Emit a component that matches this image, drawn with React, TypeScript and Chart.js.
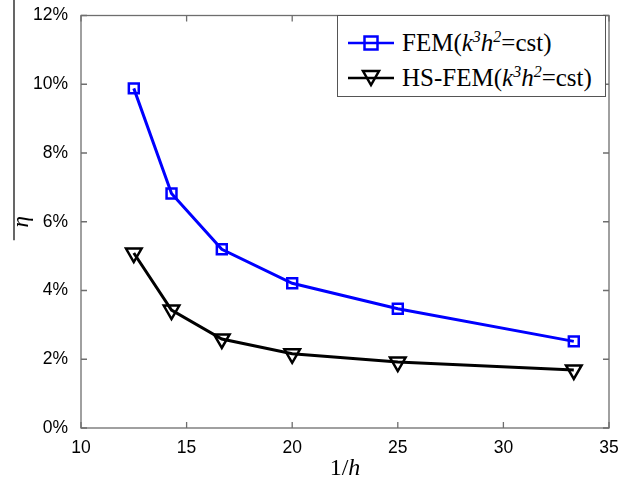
import React, { useEffect, useRef } from "react";
import { Chart, registerables } from "chart.js";

Chart.register(...registerables);

const invH = [12.5, 14.2857, 16.6667, 20, 25, 33.3333];
const femValues = [0.0988, 0.0682, 0.052, 0.0421, 0.0347, 0.0252];
const hsFemValues = [0.0509, 0.0343, 0.0259, 0.0216, 0.0192, 0.0169];
const xTicks = [10, 15, 20, 25, 30, 35];
const yTicks = [0, 0.02, 0.04, 0.06, 0.08, 0.1, 0.12];
const xTitleParts = ["1/", "h"];

const frameColor = "#6e6e6e";

const framePlugin = {
  id: "frame",
  afterDraw(chart: any) {
    const { ctx, chartArea: a, scales } = chart;
    ctx.save();
    ctx.strokeStyle = frameColor;
    ctx.lineWidth = 1.3;
    ctx.strokeRect(a.left, a.top, a.right - a.left, a.bottom - a.top);
    const tl = 6;
    ctx.beginPath();
    xTicks.forEach((v) => {
      const x = scales.x.getPixelForValue(v);
      ctx.moveTo(x, a.bottom);
      ctx.lineTo(x, a.bottom - tl);
      ctx.moveTo(x, a.top);
      ctx.lineTo(x, a.top + tl);
    });
    yTicks.forEach((v) => {
      const y = scales.y.getPixelForValue(v);
      ctx.moveTo(a.left, y);
      ctx.lineTo(a.left + tl, y);
      ctx.moveTo(a.right, y);
      ctx.lineTo(a.right - tl, y);
    });
    ctx.stroke();

    // x-axis title "1/h" with italic h
    const fontN = "24px 'Liberation Serif', 'Times New Roman', serif";
    const fontI = "italic 24px 'Liberation Serif', 'Times New Roman', serif";
    ctx.fillStyle = "#000";
    ctx.textBaseline = "alphabetic";
    ctx.font = fontN;
    const w1 = ctx.measureText(xTitleParts[0]).width;
    ctx.font = fontI;
    const w2 = ctx.measureText(xTitleParts[1]).width;
    const cx = (a.left + a.right) / 2;
    const baseY = a.bottom + 47;
    const x0 = cx - (w1 + w2) / 2;
    ctx.font = fontN;
    ctx.textAlign = "left";
    ctx.fillText(xTitleParts[0], x0, baseY);
    ctx.font = fontI;
    ctx.fillText(xTitleParts[1], x0 + w1, baseY);

    // overline of the y-axis title
    ctx.strokeStyle = "#000";
    ctx.lineWidth = 1.2;
    ctx.beginPath();
    ctx.moveTo(14, 0);
    ctx.lineTo(14, a.top + (a.bottom - a.top) * 0.545);
    ctx.stroke();
    ctx.restore();
  },
};

function Marker({ kind, color }: { kind: string; color: string }) {
  return (
    <svg width="50" height="20" style={{ display: "inline-block", verticalAlign: "middle" }}>
      <line x1="2" y1="10" x2="48" y2="10" stroke={color} strokeWidth="2.5" />
      {kind === "square" ? (
        <rect x="18.5" y="3.5" width="13" height="13" fill="none" stroke={color} strokeWidth="2.5" />
      ) : (
        <polygon points="17,3 33,3 25,17" fill="none" stroke={color} strokeWidth="2.5" />
      )}
    </svg>
  );
}

export default function App() {
  const ref = useRef<HTMLCanvasElement>(null);
  useEffect(() => {
    document.body.style.margin = "0";
    const chart = new Chart(ref.current!, {
      type: "line",
      data: {
        datasets: [
          {
            label: "FEM",
            data: invH.map((x, i) => ({ x, y: femValues[i] })),
            borderColor: "#0000ff",
            borderWidth: 3,
            pointStyle: "rect",
            pointRadius: 7,
            pointBorderWidth: 2.5,
            pointBorderColor: "#0000ff",
            pointBackgroundColor: "rgba(0,0,0,0)",
          },
          {
            label: "HS-FEM",
            data: invH.map((x, i) => ({ x, y: hsFemValues[i] })),
            borderColor: "#000000",
            borderWidth: 3,
            pointStyle: "triangle",
            pointRotation: 180,
            pointRadius: 9,
            pointBorderWidth: 2.5,
            pointBorderColor: "#000000",
            pointBackgroundColor: "rgba(0,0,0,0)",
          },
        ],
      },
      options: {
        animation: false,
        responsive: false,
        layout: { padding: { top: 13, right: 23, left: 0, bottom: 0 } },
        plugins: { legend: { display: false }, tooltip: { enabled: false } },
        scales: {
          x: {
            type: "linear",
            min: 10,
            max: 35,
            afterBuildTicks: (s: any) => {
              s.ticks = xTicks.map((v) => ({ value: v }));
            },
            afterFit: (s: any) => {
              s.height = 55;
            },
            grid: { display: false },
            border: { display: false },
            ticks: {
              color: "#000",
              padding: 2,
              font: { family: "Liberation Sans, Arial", size: 17.5 },
            },
          },
          y: {
            type: "linear",
            min: 0,
            max: 0.12,
            afterBuildTicks: (s: any) => {
              s.ticks = yTicks.map((v) => ({ value: v }));
            },
            afterFit: (s: any) => {
              s.width = 81;
            },
            grid: { display: false },
            border: { display: false },
            ticks: {
              color: "#000",
              padding: 5,
              font: { family: "Liberation Sans, Arial", size: 17.5 },
              callback: (v: any) => Math.round(Number(v) * 100) + "%",
            },
            title: {
              display: true,
              text: "η",
              color: "#000",
              font: { family: "Liberation Serif, Times New Roman", size: 23, style: "italic" },
              padding: { top: 8, bottom: 0 },
            },
          },
        },
      },
      plugins: [framePlugin],
    });
    return () => chart.destroy();
  }, []);

  const legendText: React.CSSProperties = {
    fontFamily: "Liberation Serif, Times New Roman, serif",
    fontSize: 25,
    color: "#000",
    whiteSpace: "nowrap",
    lineHeight: "26px",
    display: "flex",
    alignItems: "center",
  };
  const supStyle: React.CSSProperties = { fontSize: 16, verticalAlign: "9px", lineHeight: 0 };

  return (
    <div style={{ position: "absolute", left: 0, top: 0, width: 632, height: 483, background: "#fff" }}>
      <canvas ref={ref} width={632} height={483} style={{ display: "block" }} />
      <div
        style={{
          position: "absolute",
          left: 337,
          top: 15,
          width: 269,
          height: 82,
          border: "1px solid #555",
          background: "#fff",
          boxSizing: "border-box",
          paddingTop: 5,
          paddingLeft: 8,
        }}
      >
        <div style={{ ...legendText, height: 44 }}>
          <Marker kind="square" color="#0000ff" />
          <span style={{ marginLeft: 6 }}>
            FEM(<i>k</i>
            <sup style={supStyle}><i>3</i></sup>
            <i>h</i>
            <sup style={supStyle}><i>2</i></sup>=cst)
          </span>
        </div>
        <div style={{ ...legendText, height: 26 }}>
          <Marker kind="triangle" color="#000000" />
          <span style={{ marginLeft: 6 }}>
            HS-FEM(<i>k</i>
            <sup style={supStyle}><i>3</i></sup>
            <i>h</i>
            <sup style={supStyle}><i>2</i></sup>=cst)
          </span>
        </div>
      </div>
    </div>
  );
}
